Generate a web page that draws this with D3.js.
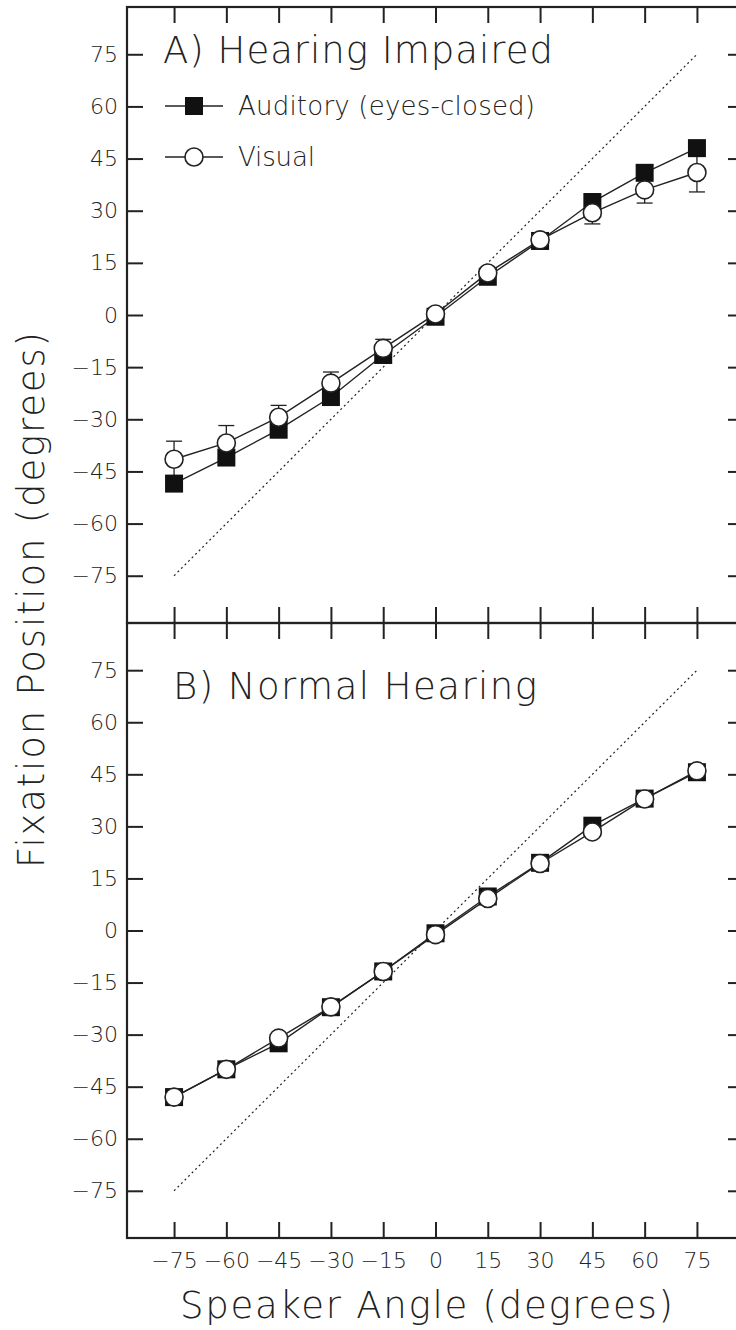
<!DOCTYPE html>
<html>
<head>
<meta charset="utf-8">
<script src="https://cdn.jsdelivr.net/npm/d3@7"></script>
<style>
  body { margin: 0; background: #fff; }
  svg text { font-family: "DejaVu Sans", sans-serif; font-weight: 200; fill: #222; }
</style>
</head>
<body>
<svg id="chart" width="736" height="1330"></svg>
<script>
// speaker angles (x) and tick values shared by both panels
const angles = [-75, -60, -45, -30, -15, 0, 15, 30, 45, 60, 75];
const tickValues = [-75, -60, -45, -30, -15, 0, 15, 30, 45, 60, 75];

// A) Hearing impaired
const hiAuditory = [-48.5, -41, -33, -23.6, -11.5, -0.5, 11, 21.3, 32.5, 40.9, 48];
const hiVisual = [-41.5, -36.8, -29.4, -19.6, -9.6, 0.3, 12.1, 21.6, 29.4, 36, 41];
const hiVisualErr = [5.2, 5, 3.4, 3.2, 2.6, 1, 1, 1, 3.2, 3.8, 5.6];

// B) Normal hearing
const nhAuditory = [-48, -40, -32.5, -22.1, -11.8, -0.8, 9.8, 19.5, 30.2, 38, 45.6];
const nhVisual = [-48, -40, -31, -22, -11.8, -1.2, 9.2, 19.3, 28.4, 37.9, 46];

const panels = [
    { title: "A) Hearing Impaired", top: 7, bottom: 623, aud: hiAuditory, vis: hiVisual, err: hiVisualErr, legend: true, titleX: 163, titleY: 63, titleW: 390 },
    { title: "B) Normal Hearing", top: 623, bottom: 1238, aud: nhAuditory, vis: nhVisual, err: null, legend: false, titleX: 173, titleY: 699, titleW: 364 }
];

const svg = d3.select("#chart");
const left = 127, right = 744;
const tickLen = 16;

const x = d3.scaleLinear().domain([-88.5, 88.5]).range([left, right]);

panels.forEach((p, i) => {
    const y = d3.scaleLinear().domain([-88.6, 88.6]).range([p.bottom, p.top]);
    const g = svg.append("g");

    // axes with inward ticks
    const yAxis = g.append("g")
        .attr("transform", `translate(${left},0)`)
        .call(d3.axisLeft(y).tickValues(tickValues).tickSize(-tickLen).tickPadding(9));
    yAxis.selectAll("text").style("font-size", "22px").attr("fill", "#222");

    g.append("g")
        .attr("transform", `translate(${right},0)`)
        .call(d3.axisRight(y).tickValues(tickValues).tickSize(-tickLen).tickFormat(""));

    g.append("g")
        .attr("transform", `translate(0,${p.top})`)
        .call(d3.axisTop(x).tickValues(tickValues).tickSize(-tickLen).tickFormat(""));

    const xAxis = g.append("g")
        .attr("transform", `translate(0,${p.bottom})`)
        .call(d3.axisBottom(x).tickValues(tickValues).tickSize(-tickLen).tickPadding(14)
            .tickFormat(i === 1 ? d3.format("d") : ""));
    xAxis.selectAll("text").style("font-size", "22px").attr("fill", "#222");

    g.selectAll(".domain").remove();
    g.selectAll(".tick line").attr("stroke", "#222").attr("stroke-width", 2);

    // frame
    g.append("rect")
        .attr("x", left).attr("y", p.top)
        .attr("width", right - left).attr("height", p.bottom - p.top)
        .attr("fill", "none").attr("stroke", "#222").attr("stroke-width", 2.2);

    // identity line
    g.append("line")
        .attr("x1", x(-75)).attr("y1", y(-75))
        .attr("x2", x(75)).attr("y2", y(75))
        .attr("stroke", "#222").attr("stroke-width", 1.2)
        .attr("stroke-dasharray", "2,3");

    // panel title
    g.append("text")
        .attr("x", p.titleX).attr("y", p.titleY)
        .attr("textLength", p.titleW).attr("lengthAdjust", "spacing")
        .style("font-size", "37px")
        .text(p.title);

    // error bars on visual series
    if (p.err) {
        const eb = g.append("g").attr("stroke", "#222").attr("stroke-width", 1.3);
        angles.forEach((a, k) => {
            const cx = x(a);
            const y0 = y(p.vis[k] - p.err[k]), y1 = y(p.vis[k] + p.err[k]);
            eb.append("line").attr("x1", cx).attr("x2", cx).attr("y1", y0).attr("y2", y1);
            eb.append("line").attr("x1", cx - 8).attr("x2", cx + 8).attr("y1", y0).attr("y2", y0);
            eb.append("line").attr("x1", cx - 8).attr("x2", cx + 8).attr("y1", y1).attr("y2", y1);
        });
    }

    const line = d3.line().x((d, k) => x(angles[k])).y(d => y(d));

    // auditory series: filled squares
    g.append("path").datum(p.aud)
        .attr("d", line).attr("fill", "none")
        .attr("stroke", "#222").attr("stroke-width", 1.4);
    g.selectAll(".sq").data(p.aud).enter().append("rect")
        .attr("class", "sq")
        .attr("x", (d, k) => x(angles[k]) - 9)
        .attr("y", d => y(d) - 9)
        .attr("width", 18).attr("height", 18)
        .attr("fill", "#111");

    // visual series: open circles
    g.append("path").datum(p.vis)
        .attr("d", line).attr("fill", "none")
        .attr("stroke", "#222").attr("stroke-width", 1.4);
    g.selectAll(".ci").data(p.vis).enter().append("circle")
        .attr("class", "ci")
        .attr("cx", (d, k) => x(angles[k]))
        .attr("cy", d => y(d))
        .attr("r", 9)
        .attr("fill", "#fff").attr("stroke", "#222").attr("stroke-width", 1.6);

    // legend
    if (p.legend) {
        const lg = g.append("g");
        const rows = [{ label: "Auditory (eyes-closed)", type: "square", cy: 106, w: 297 },
                      { label: "Visual", type: "circle", cy: 157, w: 77 }];
        rows.forEach(r => {
            lg.append("line").attr("x1", 165).attr("x2", 223)
                .attr("y1", r.cy).attr("y2", r.cy)
                .attr("stroke", "#222").attr("stroke-width", 1.4);
            if (r.type === "square") {
                lg.append("rect").attr("x", 185).attr("y", r.cy - 9)
                    .attr("width", 18).attr("height", 18).attr("fill", "#111");
            } else {
                lg.append("circle").attr("cx", 194).attr("cy", r.cy).attr("r", 9)
                    .attr("fill", "#fff").attr("stroke", "#222").attr("stroke-width", 1.6);
            }
            lg.append("text").attr("x", 238).attr("y", r.cy + 9)
                .attr("textLength", r.w).attr("lengthAdjust", "spacing")
                .style("font-size", "26px").text(r.label);
        });
    }
});

// axis titles
svg.append("text")
    .attr("x", 180).attr("y", 1318)
    .attr("textLength", 493).attr("lengthAdjust", "spacing")
    .style("font-size", "37px")
    .text("Speaker Angle (degrees)");

svg.append("text")
    .attr("transform", "translate(44,868) rotate(-90)")
    .attr("textLength", 536).attr("lengthAdjust", "spacing")
    .style("font-size", "37px")
    .text("Fixation Position (degrees)");
</script>
</body>
</html>
